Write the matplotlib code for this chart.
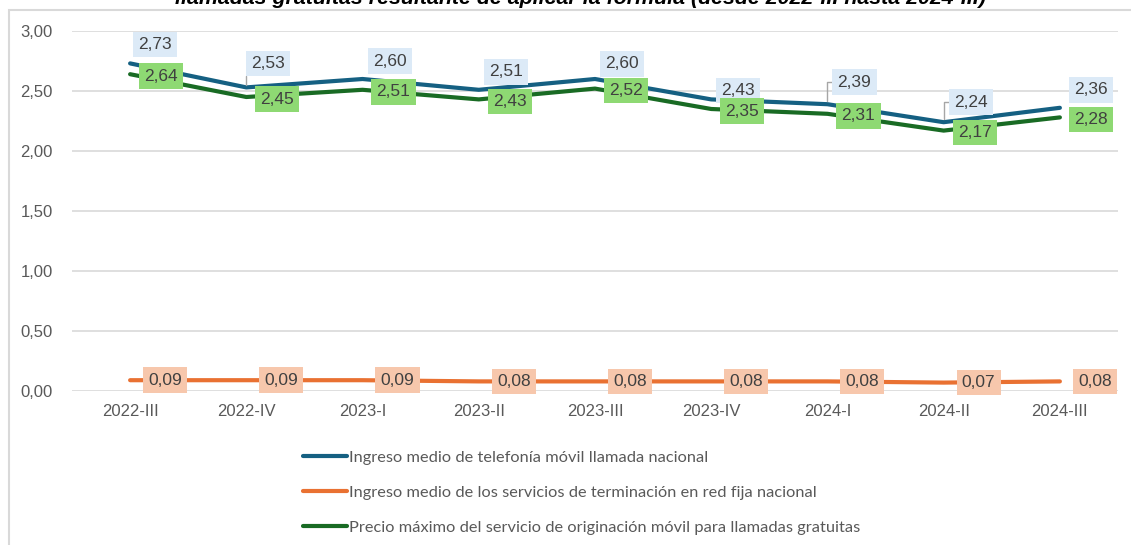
import matplotlib.pyplot as plt
from matplotlib.patches import Rectangle
import numpy as np

plt.rcParams['font.family'] = ['Liberation Sans', 'DejaVu Sans']

periodos = ['2022-III', '2022-IV', '2023-I', '2023-II', '2023-III',
            '2023-IV', '2024-I', '2024-II', '2024-III']
movil = [2.73, 2.53, 2.60, 2.51, 2.60, 2.43, 2.39, 2.24, 2.36]
fija = [0.09, 0.09, 0.09, 0.08, 0.08, 0.08, 0.08, 0.07, 0.08]
originacion = [2.64, 2.45, 2.51, 2.43, 2.52, 2.35, 2.31, 2.17, 2.28]

nombres = ['Ingreso medio de telefonía móvil llamada nacional',
           'Ingreso medio de los servicios de terminación en red fija nacional',
           'Precio máximo del servicio de originación móvil para llamadas gratuitas']
titulo = 'llamadas gratuitas resultante de aplicar la fórmula (desde 2022-III hasta 2024-III)'

azul, naranja, verde = '#156082', '#E97132', '#196B24'
gris_txt = '#595959'

W, H = 1131, 545
fig = plt.figure(figsize=(W / 100, H / 100), dpi=100)
ax = fig.add_axes([72 / W, (H - 391) / H, (1118 - 72) / W, 360 / H])

# marco del grafico
fig.patches.append(Rectangle((8.5 / W, -0.1), 1.2, (H - 10) / H + 0.1,
                             transform=fig.transFigure, fill=False,
                             edgecolor='#D9D9D9', linewidth=1.5))
# titulo cortado por arriba, como en el original
fig.text(580 / W, 1 - 4 / H, titulo, ha='center', va='baseline',
         fontsize=15.4, fontweight='bold', fontstyle='italic', color='black')

x = np.arange(len(periodos))
l1, = ax.plot(x, movil, color=azul, lw=3, solid_capstyle='round')
l2, = ax.plot(x, fija, color=naranja, lw=3, solid_capstyle='round')
l3, = ax.plot(x, originacion, color=verde, lw=3, solid_capstyle='round')

ax.set_xlim(-0.5, len(periodos) - 0.5)
ax.set_ylim(0, 3)
ax.set_yticks(np.arange(0, 3.01, 0.5))
ax.set_yticklabels([f'{v:.2f}'.replace('.', ',') for v in np.arange(0, 3.01, 0.5)])
ax.set_xticks(x)
ax.set_xticklabels(periodos)
ax.tick_params(length=0, labelsize=12, labelcolor=gris_txt)
ax.tick_params(axis='x', pad=9)
ax.tick_params(axis='y', pad=14)
ax.grid(axis='y', color='#D9D9D9', lw=1.2)
ax.set_axisbelow(True)
for s in ax.spines.values():
    s.set_visible(False)

def etiqueta(xi, yi, v, dx, dy, fondo, guia=False):
    kw = {}
    if guia:
        kw['arrowprops'] = dict(arrowstyle='-', color='#A6A6A6', lw=1,
                                connectionstyle='angle,angleA=0,angleB=90,rad=0',
                                shrinkA=0, shrinkB=2)
    ax.annotate(f'{v:.2f}'.replace('.', ','), (xi, yi), xytext=(dx, dy),
                textcoords='offset pixels', ha='center', va='center',
                fontsize=12.5, color='#404040', zorder=5,
                bbox=dict(boxstyle='square,pad=0.3', fc=fondo, ec='none'), **kw)

desp_azul = [(25, 19), (22, 24), (27, 18), (27, 18), (27, 15),
             (27, 9), (27, 22), (27, 20), (31, 18)]
for i, v in enumerate(movil):
    etiqueta(i, v, v, *desp_azul[i], '#DCEAF7', guia=i in (1, 6, 7))
for i, v in enumerate(originacion):
    etiqueta(i, v, v, 31, -2, '#8ED973')
for i, v in enumerate(fija):
    etiqueta(i, v, v, 35, 0, '#F7C7AC')

leg = fig.legend([l1, l2, l3], nombres, loc='upper left',
                 bbox_to_anchor=(288 / W, 1 - 436 / H), frameon=False,
                 handlelength=2.7, handletextpad=0.1, labelspacing=1.25,
                 prop={'family': ['Lato', 'DejaVu Sans'], 'size': 11.8})
for t in leg.get_texts():
    t.set_color(gris_txt)

fig.savefig('out.png', dpi=100)
